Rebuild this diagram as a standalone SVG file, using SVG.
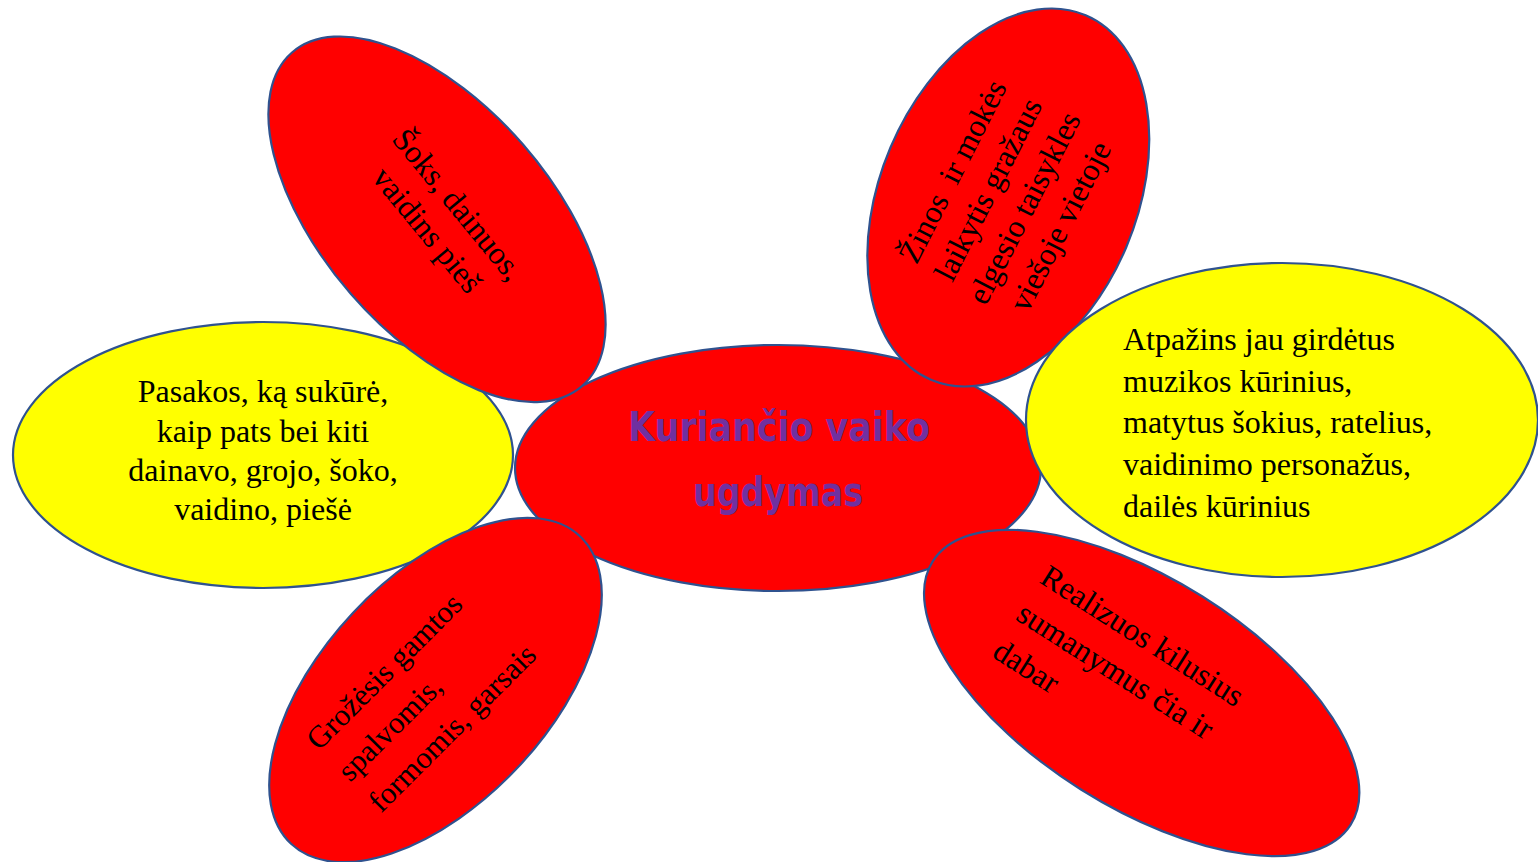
<svg xmlns="http://www.w3.org/2000/svg" width="1538" height="862" viewBox="0 0 1538 862">
<style>
.shape{stroke:#2F528F;stroke-width:2.2}
.red{fill:#FF0000}
.yel{fill:#FFFF00}
.t{font-family:"Liberation Serif","Times New Roman",serif;font-size:32px;fill:#000}
.c{text-anchor:middle}
.title{font-family:"DejaVu Sans",sans-serif;font-weight:bold;font-size:40px;fill:#7030A0;text-anchor:middle}
</style>
<rect width="1538" height="862" fill="#FFFFFF"/>
<g id="center">
<ellipse class="shape red" cx="778" cy="468" rx="263" ry="123"/>
<text class="title" x="779" y="441" textLength="302" lengthAdjust="spacingAndGlyphs">Kuriančio vaiko</text>
<text class="title" x="778" y="506" textLength="170" lengthAdjust="spacingAndGlyphs">ugdymas</text>
</g>
<g id="node-left">
<ellipse class="shape yel" cx="263" cy="455" rx="250" ry="133"/>
<text class="t c" x="263" y="402">Pasakos, ką sukūrė,</text>
<text class="t c" x="263" y="442">kaip pats bei kiti</text>
<text class="t c" x="263" y="481">dainavo, grojo, šoko,</text>
<text class="t c" x="263" y="520">vaidino, piešė</text>
</g>
<g id="node-top-right">
<ellipse class="shape red" cx="0" cy="0" rx="198" ry="128" transform="translate(1008.3 197.5) rotate(-67)"/>
<g transform="translate(1008.3 197.5) rotate(-63)">
<text class="t c" x="-2" y="-51" xml:space="preserve">Žinos  ir mokės</text>
<text class="t c" x="-2" y="-11">laikytis gražaus</text>
<text class="t c" x="-2" y="29.5">elgesio taisykles</text>
<text class="t c" x="-2" y="70">viešoje vietoje</text>
</g>
</g>
<g id="node-right">
<ellipse class="shape yel" cx="1282" cy="420" rx="256" ry="157"/>
<text class="t" x="1123" y="350">Atpažins jau girdėtus</text>
<text class="t" x="1123" y="392">muzikos kūrinius,</text>
<text class="t" x="1123" y="433">matytus šokius, ratelius,</text>
<text class="t" x="1123" y="475">vaidinimo personažus,</text>
<text class="t" x="1123" y="517">dailės kūrinius</text>
</g>
<g id="node-top-left">
<ellipse class="shape red" cx="0" cy="0" rx="221" ry="114" transform="translate(437 219.3) rotate(49)"/>
<g transform="translate(437 219.3) rotate(50.5)">
<text class="t c" x="2" y="-15">Šoks, dainuos,</text>
<text class="t c" x="2" y="25">vaidins pieš</text>
</g>
</g>
<g id="node-bottom-left">
<ellipse class="shape red" cx="0" cy="0" rx="211" ry="113" transform="translate(435.5 690) rotate(-46.8)"/>
<g transform="translate(435.5 690) rotate(-45)">
<text class="t" x="-126" y="-39" style="font-size:31px">Grožėsis gamtos</text>
<text class="t" x="-126" y="5" style="font-size:31px">spalvomis,</text>
<text class="t" x="-126" y="49" style="font-size:31px">formomis, garsais</text>
</g>
</g>
<g id="node-bottom-right">
<ellipse class="shape red" cx="0" cy="0" rx="247" ry="114" transform="translate(1141.7 693) rotate(32.2)"/>
<g transform="translate(1141.7 693) rotate(32.5)">
<text class="t" x="-147" y="-38">Realizuos kilusius</text>
<text class="t" x="-147" y="6">sumanymus čia ir</text>
<text class="t" x="-147" y="50">dabar</text>
</g>
</g>
</svg>
